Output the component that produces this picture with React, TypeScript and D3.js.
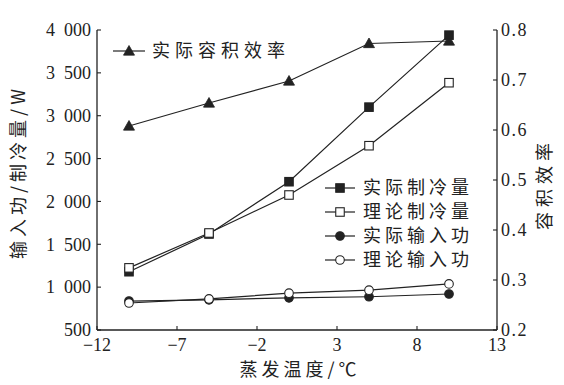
import React from "react";
import * as d3 from "d3";

const temps = [-10, -5, 0, 5, 10];
const efficiency = [0.608, 0.654, 0.698, 0.773, 0.778];
const actualCooling = [1180, 1620, 2230, 3100, 3940];
const theoryCooling = [1225, 1632, 2075, 2650, 3385];
const actualPower = [838, 852, 875, 888, 920];
const theoryPower = [815, 862, 930, 965, 1038];

const xTicks = [-12, -7, -2, 3, 8, 13];
const yLeftTicks = [500, 1000, 1500, 2000, 2500, 3000, 3500, 4000];
const yRightTicks = [0.2, 0.3, 0.4, 0.5, 0.6, 0.7, 0.8];

const xTitle = "蒸发温度/℃";
const yLeftTitle = "输入功/制冷量/W";
const yRightTitle = "容积效率";
const legendEff = "实际容积效率";
const legendNames = ["实际制冷量", "理论制冷量", "实际输入功", "理论输入功"];

const INK = "#222";
const CJK = "'Noto Sans CJK SC', sans-serif";
const SERIF = "'Liberation Serif', 'DejaVu Serif', serif";

type Mk = "tri" | "sqF" | "sqO" | "ciF" | "ciO";

function Marker({ kind, x, y }: { kind: Mk; x: number; y: number }) {
  if (kind === "tri") {
    const s = 5.5;
    return (
      <path
        d={`M${x},${y - s}L${x + s},${y + s * 0.75}L${x - s},${y + s * 0.75}Z`}
        fill={INK}
        stroke={INK}
        strokeWidth={0.8}
      />
    );
  }
  if (kind === "sqF" || kind === "sqO") {
    const s = 8.5;
    return (
      <rect
        x={x - s / 2}
        y={y - s / 2}
        width={s}
        height={s}
        fill={kind === "sqF" ? INK : "#fff"}
        stroke={INK}
        strokeWidth={1.1}
      />
    );
  }
  return (
    <circle
      cx={x}
      cy={y}
      r={4.3}
      fill={kind === "ciF" ? INK : "#fff"}
      stroke={INK}
      strokeWidth={1.1}
    />
  );
}

export default function App() {
  const x = d3.scaleLinear().domain([-12, 13]).range([97, 497]);
  const yL = d3.scaleLinear().domain([500, 4000]).range([330, 30]);
  const yR = d3.scaleLinear().domain([0.2, 0.8]).range([330, 30]);

  const fmtL = (v: number) => d3.format(",")(v).replace(",", "\u2002");
  const fmtX = d3.format("");
  const fmtR = d3.format(".1f");

  const lineL = d3
    .line<number>()
    .x((_, i) => x(temps[i]))
    .y((d) => yL(d));
  const lineR = d3
    .line<number>()
    .x((_, i) => x(temps[i]))
    .y((d) => yR(d));

  const leftSeries: { data: number[]; mk: Mk }[] = [
    { data: actualCooling, mk: "sqF" },
    { data: theoryCooling, mk: "sqO" },
    { data: actualPower, mk: "ciF" },
    { data: theoryPower, mk: "ciO" },
  ];

  return (
    <svg
      width={564}
      height={385}
      style={{ position: "absolute", left: 0, top: 0, background: "#fff" }}
    >
      {/* axes */}
      <line x1={97} x2={97} y1={30} y2={330} stroke={INK} strokeWidth={1.3} />
      <line x1={497} x2={497} y1={30} y2={330} stroke={INK} strokeWidth={1.3} />
      <line x1={97} x2={497} y1={330} y2={330} stroke={INK} strokeWidth={1.3} />

      {yLeftTicks.map((t) => (
        <g key={"yl" + t}>
          <line x1={97} x2={101} y1={yL(t)} y2={yL(t)} stroke={INK} strokeWidth={1.1} />
          <text
            x={91}
            y={yL(t)}
            dy="0.35em"
            textAnchor="end"
            fontFamily={SERIF}
            fontSize={18}
            fill={INK}
          >
            {fmtL(t)}
          </text>
        </g>
      ))}
      {yRightTicks.map((t) => (
        <g key={"yr" + t}>
          <line x1={493} x2={497} y1={yR(t)} y2={yR(t)} stroke={INK} strokeWidth={1.1} />
          <text
            x={501}
            y={yR(t)}
            dy="0.35em"
            textAnchor="start"
            fontFamily={SERIF}
            fontSize={18}
            letterSpacing={1.5}
            fill={INK}
          >
            {fmtR(t)}
          </text>
        </g>
      ))}
      {xTicks.map((t) => (
        <g key={"x" + t}>
          <line x1={x(t)} x2={x(t)} y1={330} y2={326} stroke={INK} strokeWidth={1.1} />
          <text
            x={x(t)}
            y={351}
            textAnchor="middle"
            fontFamily={SERIF}
            fontSize={18}
            fill={INK}
          >
            {fmtX(t)}
          </text>
        </g>
      ))}

      {/* titles */}
      <text
        x={300}
        y={376}
        textAnchor="middle"
        fontFamily={CJK}
        fontSize={18}
        letterSpacing={4}
        fill={INK}
      >
        {xTitle}
      </text>
      <text
        transform="translate(25,172) rotate(-90)"
        textAnchor="middle"
        fontFamily={CJK}
        fontSize={18}
        letterSpacing={4}
        fill={INK}
      >
        {yLeftTitle}
      </text>
      <text
        transform="translate(551,184) rotate(-90)"
        textAnchor="middle"
        fontFamily={CJK}
        fontSize={18}
        letterSpacing={5}
        fill={INK}
      >
        {yRightTitle}
      </text>

      {/* series */}
      <path d={lineR(efficiency) || ""} fill="none" stroke={INK} strokeWidth={1.2} />
      {leftSeries.map((s, k) => (
        <path key={"l" + k} d={lineL(s.data) || ""} fill="none" stroke={INK} strokeWidth={1.2} />
      ))}
      {efficiency.map((v, i) => (
        <Marker key={"e" + i} kind="tri" x={x(temps[i])} y={yR(v)} />
      ))}
      {leftSeries.map((s, k) =>
        s.data.map((v, i) => (
          <Marker key={"m" + k + "-" + i} kind={s.mk} x={x(temps[i])} y={yL(v)} />
        ))
      )}

      {/* legend top */}
      <line x1={113} x2={145} y1={51} y2={51} stroke={INK} strokeWidth={1.2} />
      <Marker kind="tri" x={129} y={51} />
      <text
        x={152}
        y={51}
        dy="0.36em"
        fontFamily={CJK}
        fontSize={18}
        letterSpacing={5}
        fill={INK}
      >
        {legendEff}
      </text>

      {/* legend right */}
      {legendNames.map((name, i) => {
        const ly = 188 + i * 24;
        return (
          <g key={"lg" + i}>
            <line x1={325} x2={355} y1={ly} y2={ly} stroke={INK} strokeWidth={1.2} />
            <Marker kind={leftSeries[i].mk} x={340} y={ly} />
            <text
              x={363}
              y={ly}
              dy="0.36em"
              fontFamily={CJK}
              fontSize={18}
              letterSpacing={4}
              fill={INK}
            >
              {name}
            </text>
          </g>
        );
      })}
    </svg>
  );
}
